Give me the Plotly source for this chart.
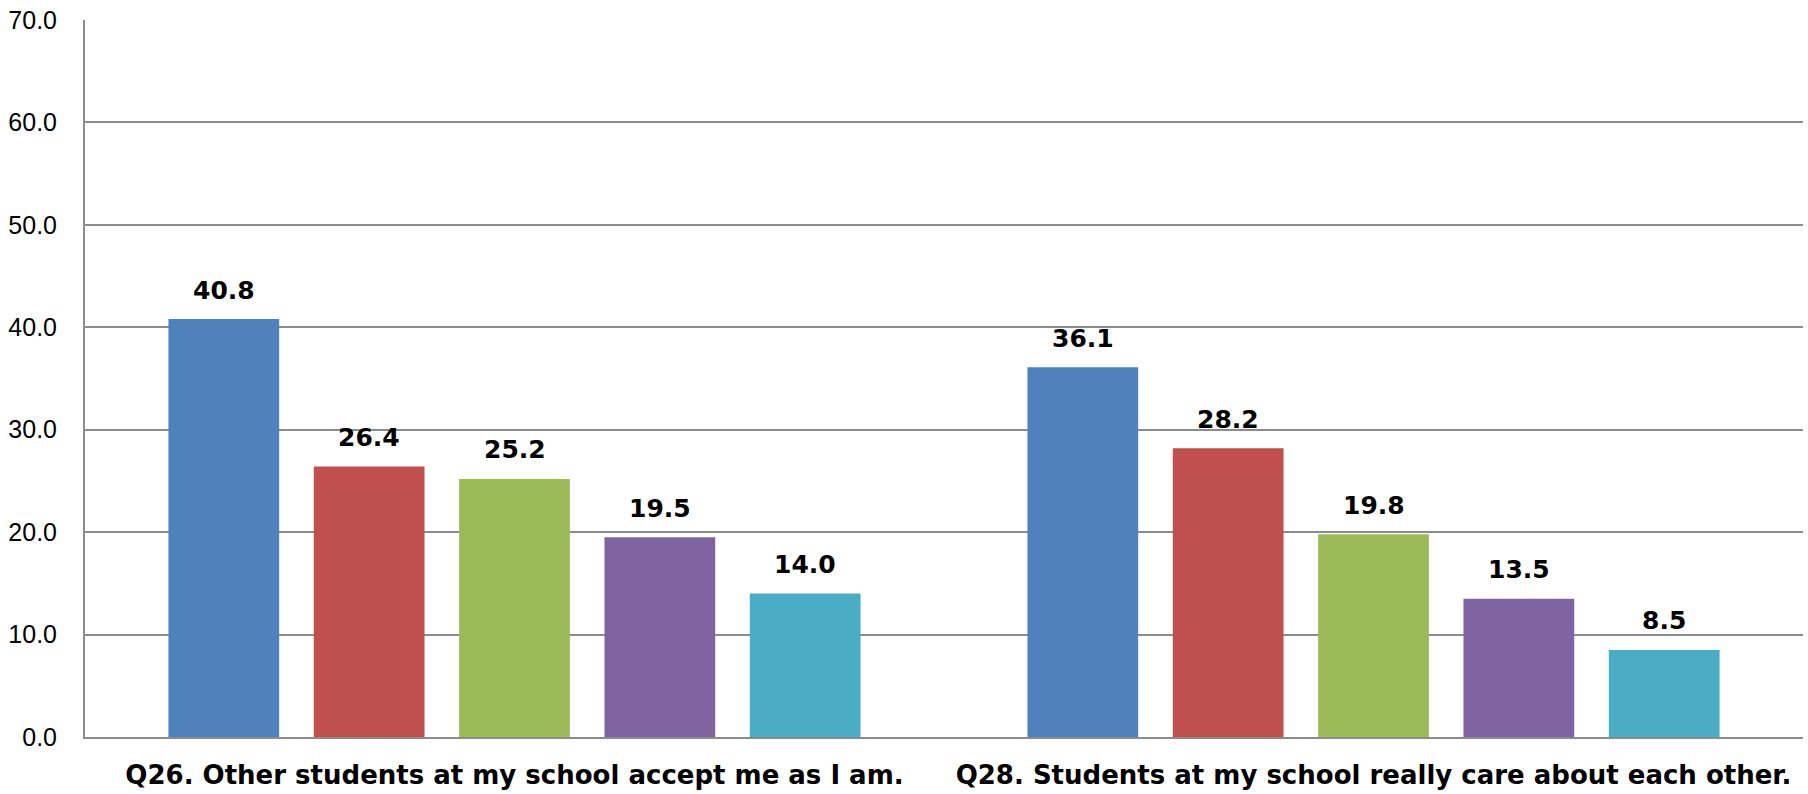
import plotly.graph_objects as go

# Survey items and the percentage for each of five response groups
categories = [
    "Q26. Other students at my school accept me as I am.",
    "Q28. Students at my school really care about each other.",
]
series_names = ["Group 1", "Group 2", "Group 3", "Group 4", "Group 5"]
series_values = [
    [40.8, 36.1],
    [26.4, 28.2],
    [25.2, 19.8],
    [19.5, 13.5],
    [14.0, 8.5],
]
colors = ["#4F81BD", "#C0504D", "#9BBB59", "#8064A2", "#4BACC6"]
y_ticks = [0, 10, 20, 30, 40, 50, 60, 70]

BARGAP = 0.154
BARGROUPGAP = 0.238

fig = go.Figure()
for name, vals, col in zip(series_names, series_values, colors):
    fig.add_trace(go.Bar(
        x=categories, y=vals, name=name,
        marker=dict(color=col, line=dict(width=0)),
        hoverinfo="y",
    ))

# Value labels above each bar, centred on the bar's slot within its group
n = len(series_names)
group_w = 1 - BARGAP
slot = group_w / n
for i, vals in enumerate(series_values):
    off = -group_w / 2 + slot * (i + 0.5)
    for ci, v in enumerate(vals):
        fig.add_annotation(
            x=ci + off, y=v, xref="x", yref="y",
            text=f"<b>{v:.1f}</b>", showarrow=False,
            yanchor="middle", yshift=29,
            font=dict(family="DejaVu Sans", size=25, color="#000000"),
        )

fig.update_layout(
    width=1808, height=794,
    margin=dict(l=85, r=5, t=20, b=57),
    paper_bgcolor="white", plot_bgcolor="white",
    barmode="group", bargap=BARGAP, bargroupgap=BARGROUPGAP,
    showlegend=False,
    font=dict(family="Liberation Sans", color="#000000"),
)
fig.update_xaxes(
    type="category", range=[-0.5, 1.5], automargin=False,
    showgrid=False, showline=True, linecolor="#8c8c8c", linewidth=2,
    ticks="", ticklabelstandoff=14,
    tickfont=dict(family="DejaVu Sans", size=26, color="#000000", weight="bold"),
)
fig.update_yaxes(
    range=[0, 70], tickvals=y_ticks, tickformat=".1f", automargin=False,
    showgrid=True, gridcolor="#8c8c8c", gridwidth=2,
    zeroline=False, showline=True, linecolor="#8c8c8c", linewidth=2,
    ticks="", ticklabelstandoff=21,
    tickfont=dict(family="Liberation Sans", size=25, color="#000000"),
)

fig.write_html("out.html")
